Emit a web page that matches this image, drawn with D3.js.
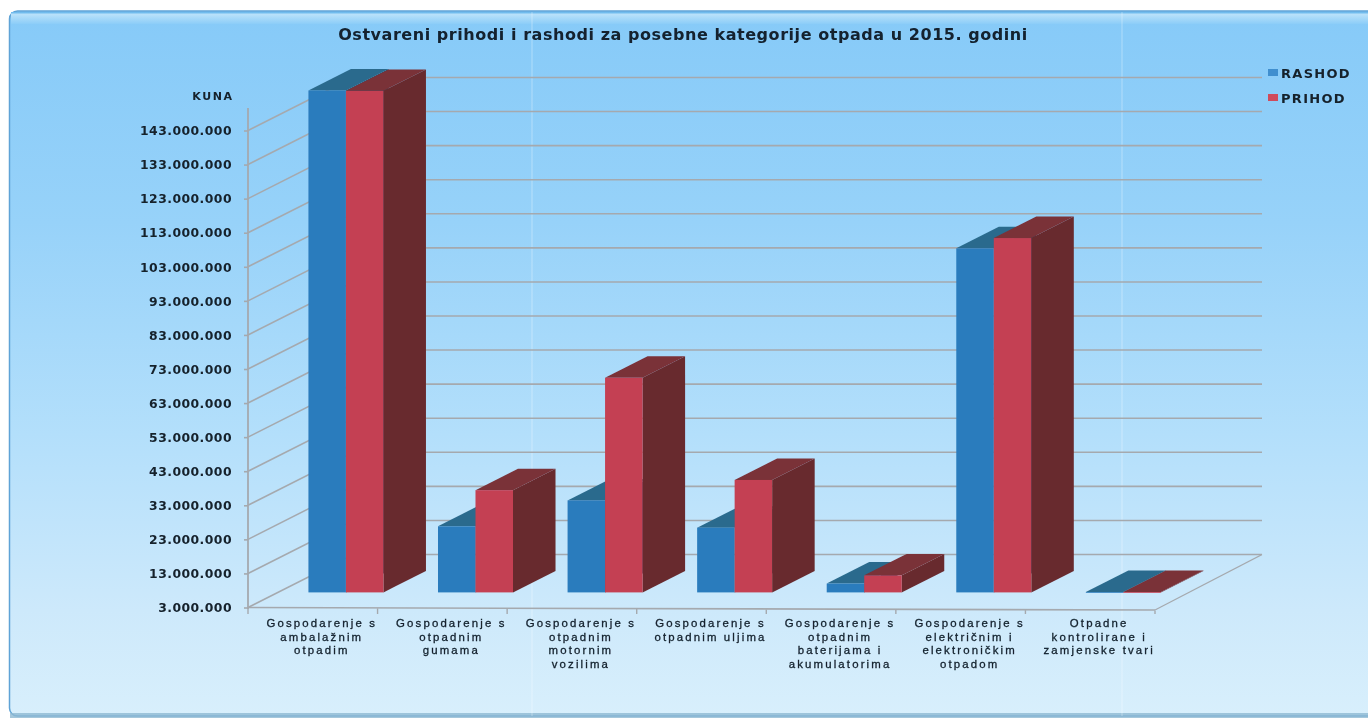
<!DOCTYPE html>
<html><head><meta charset="utf-8">
<script src="https://cdn.jsdelivr.net/npm/d3@7"></script>
<style>html,body{margin:0;padding:0;background:#fff;overflow:hidden}svg{display:block}</style>
</head><body><svg id="c" width="1368" height="720"></svg>
<script>
const titleText = "Ostvareni prihodi i rashodi za posebne kategorije otpada u 2015. godini";
const unitLabel = "KUNA";
const seriesNames = ["RASHOD", "PRIHOD"];
const categories = [
  ["Gospodarenje s","ambalažnim","otpadim"],
  ["Gospodarenje s","otpadnim","gumama"],
  ["Gospodarenje s","otpadnim","motornim","vozilima"],
  ["Gospodarenje s","otpadnim uljima"],
  ["Gospodarenje s","otpadnim","baterijama i","akumulatorima"],
  ["Gospodarenje s","električnim i","elektroničkim","otpadom"],
  ["Otpadne","kontrolirane i","zamjenske tvari"]
];
const rashod = [150300000, 22400000, 30000000, 22000000, 5600000, 104000000, 3100000];
const prihod = [150200000, 33000000, 66000000, 36000000, 8000000, 107000000, 3100000];
const yTicks = [3,13,23,33,43,53,63,73,83,93,103,113,123,133,143].map(d => d * 1e6);

const svg = d3.select("#c");
const defs = svg.append("defs");
const g = defs.append("linearGradient").attr("id","bg").attr("x1",0).attr("y1",0).attr("x2",0).attr("y2",1);
[[0,"#86caf8"],[0.3,"#97d2f9"],[0.6,"#b3dffb"],[0.85,"#cde9fb"],[1,"#d8effc"]].forEach(s=>g.append("stop").attr("offset",s[0]).attr("stop-color",s[1]));
const hl = defs.append("linearGradient").attr("id","hl").attr("x1",0).attr("y1",0).attr("x2",0).attr("y2",1);
[[0,"#5fb2ea"],[0.2,"#b9e1fa"],[1,"#8ccdf8"]].forEach(s=>hl.append("stop").attr("offset",s[0]).attr("stop-color",s[1]));
const soft = defs.append("filter").attr("id","soft");
soft.append("feGaussianBlur").attr("stdDeviation",0.4);

svg.append("rect").attr("x",9.5).attr("y",11).attr("width",1370).attr("height",705).attr("rx",8)
  .attr("fill","url(#bg)").attr("stroke","#5fa3d6").attr("stroke-width",1.5);
svg.append("rect").attr("x",11).attr("y",12).attr("width",1357).attr("height",12).attr("fill","url(#hl)");
svg.append("rect").attr("x",10).attr("y",713).attr("width",1358).attr("height",5).attr("fill","#8fb9d2").attr("opacity",0.8);
[532,1122].forEach(x=>svg.append("line").attr("x1",x).attr("x2",x).attr("y1",12).attr("y2",716).attr("stroke","#fff").attr("stroke-width",1.5).attr("opacity",0.22));

const chart = svg.append("g").attr("filter","url(#soft)");

const depthX = 105, depthY = -53;
const y = d3.scaleLinear().domain([3e6,143e6]).range([607.5,130.5]);
const x = d3.scaleBand().domain(d3.range(categories.length)).range([248,1155]);
const series = d3.scaleBand().domain([0,1]).range([30.5,105.5]);
const project = (px, v, z) => [px + depthX*z, y(v) + depthY*z];
const poly = pts => pts.map(p=>p.join(",")).join(" ");

const gridCol = "#a5a9ae";
const grid = chart.append("g").attr("fill","none").attr("stroke",gridCol).attr("stroke-width",1.6);
yTicks.forEach(t=>{
  const a = project(248,t,0), b = project(248,t,1), c = project(1157,t,1);
  grid.append("polyline").attr("points",poly([a,b,c]));
});
const fl = [project(248,3e6,0), project(1155,3e6,0)];
fl[1][1]+=2.5;
const fr = [fl[1], project(1157,3e6,1)];
grid.append("line").attr("x1",fl[0][0]).attr("y1",fl[0][1]).attr("x2",fl[1][0]).attr("y2",fl[1][1]);
grid.append("line").attr("x1",fr[0][0]).attr("y1",fr[0][1]).attr("x2",fr[1][0]).attr("y2",fr[1][1]).attr("stroke-width",1.2);

const fmt = d3.formatLocale({decimal:",",thousands:".",grouping:[3],currency:["",""]}).format(",d");
const yAxis = chart.append("g").attr("transform","translate(248,0)")
  .call(d3.axisLeft(y).tickValues(yTicks).tickFormat(fmt).tickSize(4).tickPadding(12));
yAxis.select(".domain").remove();
yAxis.selectAll("line").attr("stroke",gridCol).attr("stroke-width",1.6);
yAxis.selectAll("text").attr("font-family","DejaVu Sans").attr("font-weight",700).attr("font-size",12.4)
  .attr("letter-spacing",0.45).attr("fill","#14202c").attr("dy","0.34em");
chart.append("line").attr("x1",248).attr("x2",248).attr("y1",108).attr("y2",609).attr("stroke",gridCol).attr("stroke-width",1.8);

const tickPos = d3.range(categories.length+1).map(i => 248 + x.step()*i);
tickPos.forEach(t=>chart.append("line").attr("x1",t).attr("x2",t).attr("y1",608+ (t-248)/907*2.5).attr("y2",614).attr("stroke",gridCol).attr("stroke-width",1.4));

const zFront = 0.285, zBack = 0.69;
const cols = [
  {face:"#2c7cbd", top:"#2a6b8d", side:"#234f6d", vals:rashod},
  {face:"#c43f52", top:"#7a3038", side:"#682a2e", vals:prihod}
];
categories.forEach((c,i)=>{
  const gb = chart.append("g");
  cols.forEach((s,k)=>{
    const v = s.vals[i], L = x(i)+series(k), R = L+series.bandwidth();
    gb.append("polygon").attr("fill",s.side).attr("points",poly([
      project(R,3e6,zFront),project(R,3e6,zBack),project(R,v,zBack),project(R,v,zFront)]));
    gb.append("polygon").attr("fill",s.top).attr("points",poly([
      project(L,v,zFront),project(R,v,zFront),project(R,v,zBack),project(L,v,zBack)]));
  });
  cols.forEach((s,k)=>{
    const v = s.vals[i], L = x(i)+series(k), a = project(L,v,zFront), b = project(L+series.bandwidth(),3e6,zFront);
    gb.append("rect").attr("x",a[0]).attr("y",a[1]).attr("width",b[0]-a[0]).attr("height",Math.max(0.8,b[1]-a[1])).attr("fill",s.face);
  });
});

categories.forEach((lines,i)=>{
  const t = chart.append("text").attr("text-anchor","middle").attr("font-family","Liberation Sans")
    .attr("font-size",11.4).attr("letter-spacing",2.15).attr("fill","#14202c").attr("stroke","#14202c").attr("stroke-width",0.3);
  lines.forEach((l,j)=>t.append("tspan").attr("x",x(i)+x.bandwidth()/2+9).attr("y",627+j*13.6).text(l));
});

chart.append("text").attr("x",213).attr("y",100).attr("text-anchor","middle").attr("font-family","DejaVu Sans")
  .attr("font-weight",700).attr("font-size",11).attr("letter-spacing",1.6).attr("fill","#14202c").text(unitLabel);
chart.append("text").attr("x",683).attr("y",40).attr("text-anchor","middle").attr("font-family","DejaVu Sans")
  .attr("font-weight",700).attr("font-size",16).attr("letter-spacing",0.55).attr("fill","#12202e").text(titleText);

const legY = [73,98], legCol = ["#3f8fcf","#cf4c5c"];
seriesNames.forEach((n,i)=>{
  chart.append("rect").attr("x",1268).attr("y",legY[i]-4).attr("width",10).attr("height",7).attr("fill",legCol[i]);
  chart.append("text").attr("x",1281).attr("y",legY[i]+5).attr("font-family","DejaVu Sans").attr("font-weight",700)
    .attr("font-size",13).attr("letter-spacing",1.3).attr("fill","#14202c").text(n);
});
</script></body></html>
